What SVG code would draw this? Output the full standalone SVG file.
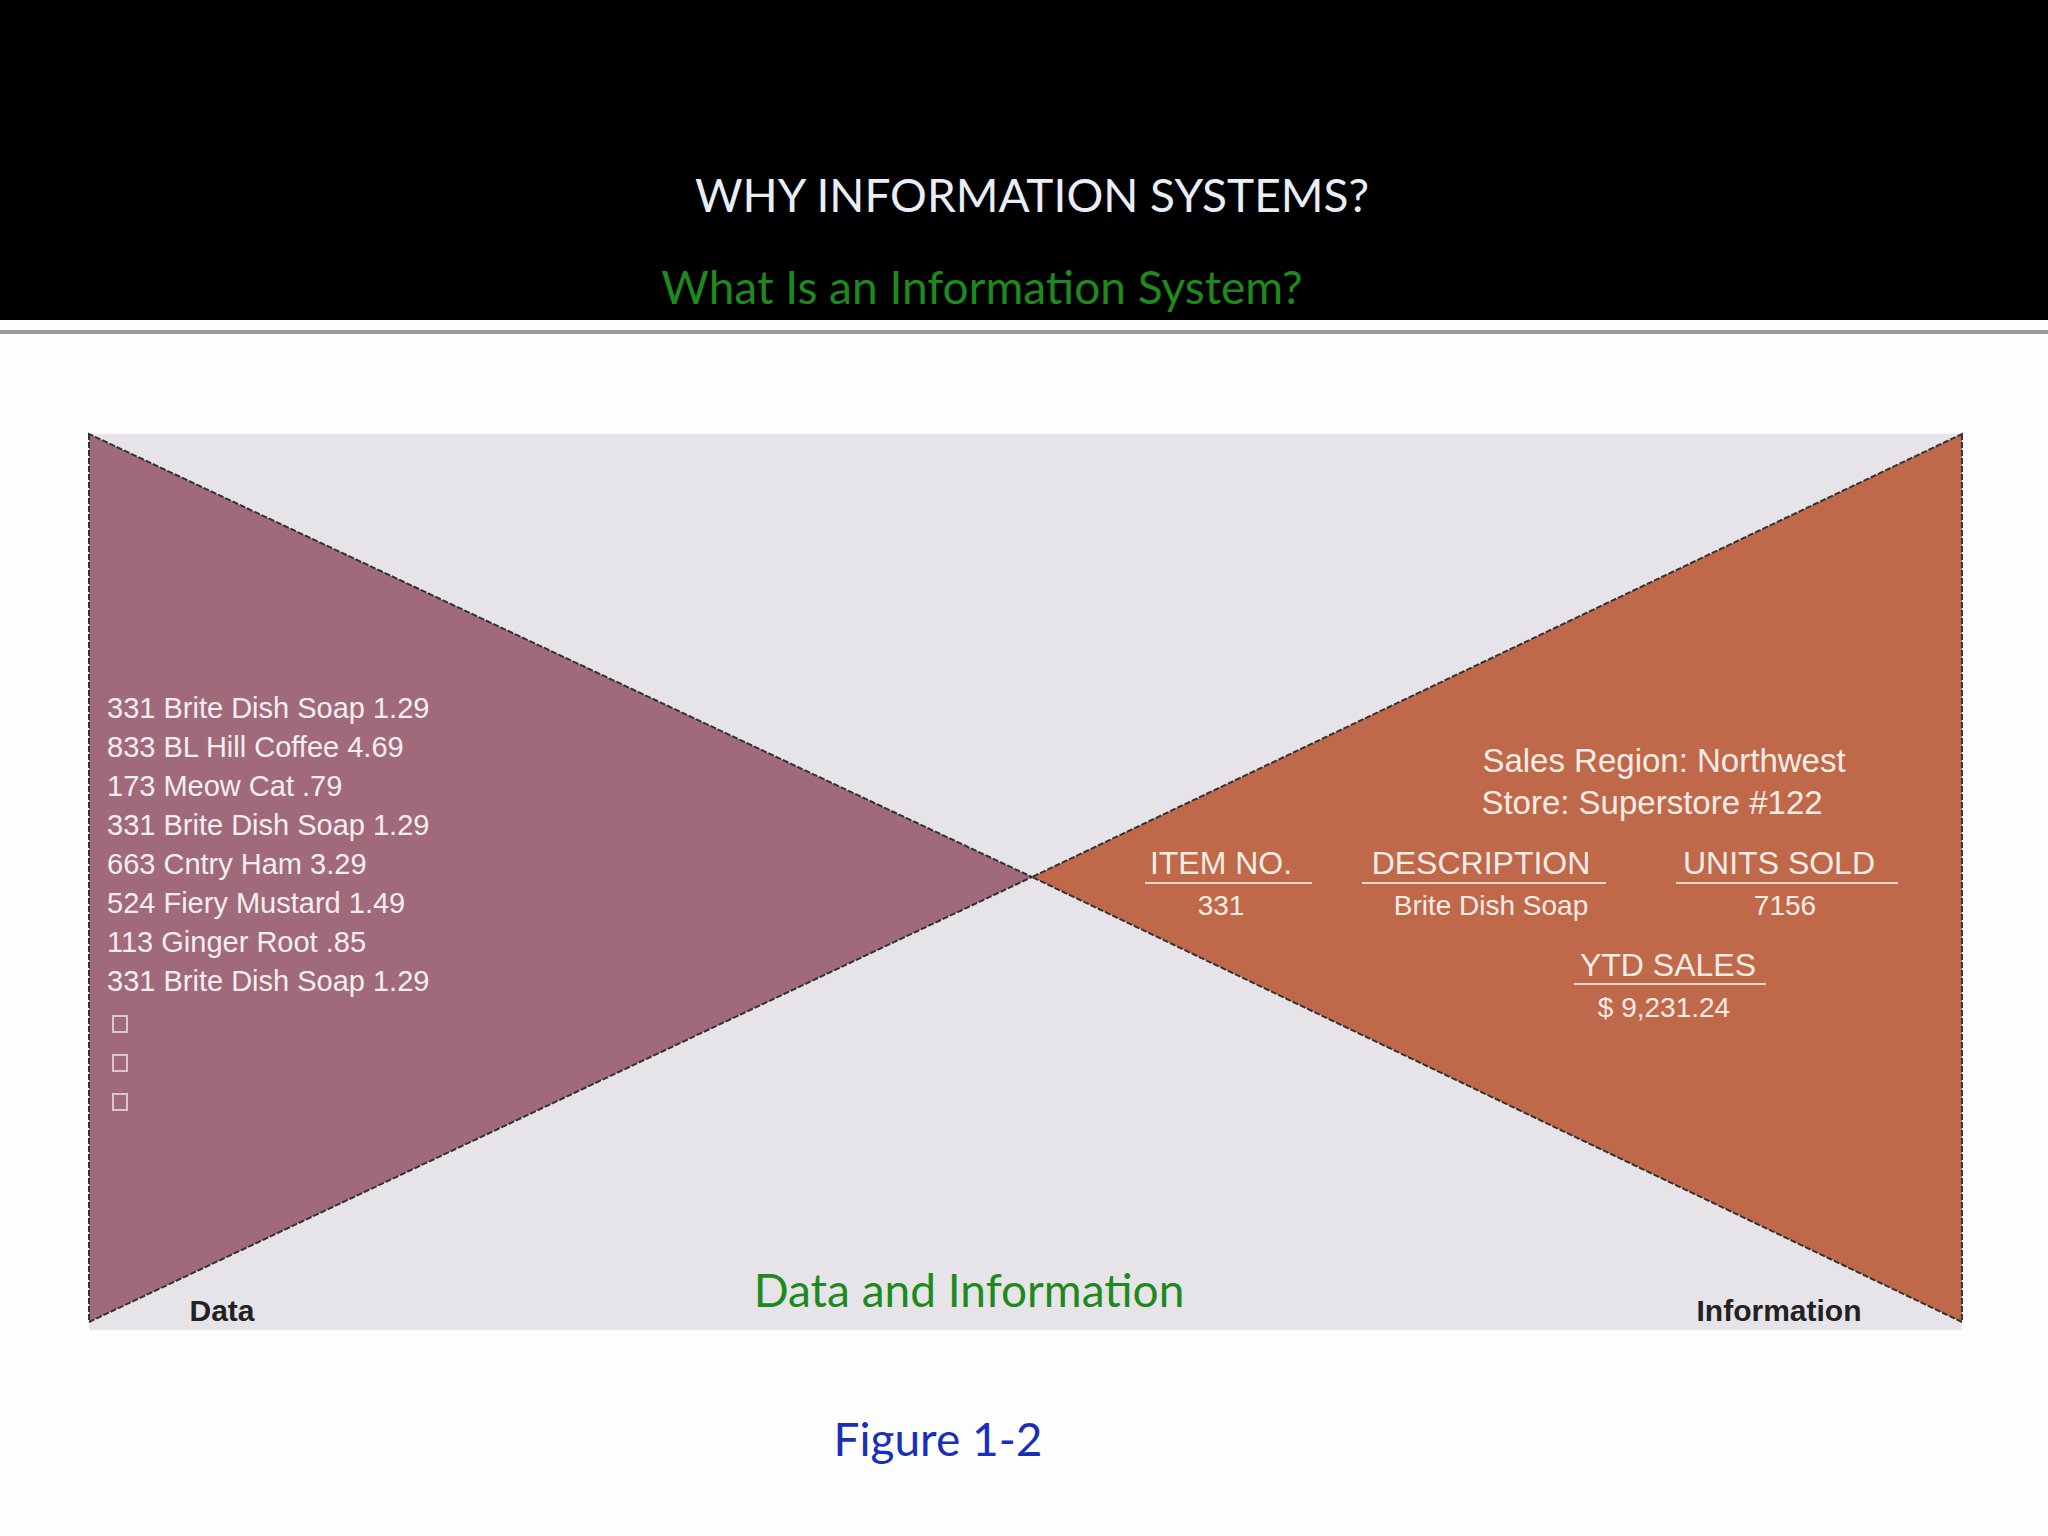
<svg xmlns="http://www.w3.org/2000/svg" width="2048" height="1536" viewBox="0 0 2048 1536">
<style>
.h{font-family:"Lato","Open Sans",sans-serif;text-anchor:middle}
.l{font-family:"Liberation Sans",Arial,sans-serif;fill:#f4eef0;font-size:29px}
.r{font-family:"Liberation Sans",Arial,sans-serif;fill:#f6ece6;text-anchor:middle}
.lab{font-family:"Liberation Sans",Arial,sans-serif;font-weight:bold;font-size:30px;fill:#222;text-anchor:middle}
</style>
<rect width="2048" height="1536" fill="#fdfdfd"/>
<rect width="2048" height="320" fill="#000"/>
<rect x="0" y="330" width="2048" height="4" fill="#9a9a9a"/>
<text class="h" x="1032" y="212" font-size="46" fill="#e8eef6">WHY INFORMATION SYSTEMS?</text>
<text class="h" x="982" y="304" font-size="46" fill="#1e8a1e">What Is an Information System?</text>
<g id="panel">
<rect x="89" y="434" width="1873" height="896" fill="#e6e4e8"/>
<polygon points="89,434 89,1322 1032,877" fill="#a06a7a" stroke="#333" stroke-width="2" stroke-dasharray="6 2"/>
<polygon points="1962,434 1962,1322 1032,877" fill="#c0694a" stroke="#333" stroke-width="2" stroke-dasharray="6 2"/>
</g>
<g id="data-text">
<text class="l" x="107" y="718">331 Brite Dish Soap  1.29</text>
<text class="l" x="107" y="757">833 BL Hill Coffee  4.69</text>
<text class="l" x="107" y="796">173 Meow Cat  .79</text>
<text class="l" x="107" y="835">331 Brite Dish Soap  1.29</text>
<text class="l" x="107" y="874">663 Cntry Ham 3.29</text>
<text class="l" x="107" y="913">524 Fiery Mustard  1.49</text>
<text class="l" x="107" y="952">113 Ginger Root  .85</text>
<text class="l" x="107" y="991">331 Brite Dish Soap  1.29</text>
<g fill="none" stroke="#d8c4ca" stroke-width="2">
<rect x="113" y="1016" width="14" height="16"/>
<rect x="113" y="1055" width="14" height="16"/>
<rect x="113" y="1094" width="14" height="16"/>
</g>
</g>
<g id="info-text">
<text class="r" x="1664" y="772" font-size="33">Sales Region: Northwest</text>
<text class="r" x="1652" y="814" font-size="33">Store: Superstore #122</text>
<text class="r" x="1221" y="874" font-size="32">ITEM NO.</text>
<text class="r" x="1481" y="874" font-size="32">DESCRIPTION</text>
<text class="r" x="1779" y="874" font-size="32">UNITS SOLD</text>
<g stroke="#f0d8cc" stroke-width="2">
<line x1="1145" y1="883" x2="1312" y2="883"/>
<line x1="1362" y1="883" x2="1606" y2="883"/>
<line x1="1676" y1="883" x2="1898" y2="883"/>
<line x1="1574" y1="984" x2="1766" y2="984"/>
</g>
<text class="r" x="1221" y="915" font-size="28">331</text>
<text class="r" x="1491" y="915" font-size="28">Brite Dish Soap</text>
<text class="r" x="1785" y="915" font-size="28">7156</text>
<text class="r" x="1668" y="976" font-size="32">YTD SALES</text>
<text class="r" x="1664" y="1017" font-size="28">$ 9,231.24</text>
</g>
<text class="lab" x="222" y="1321">Data</text>
<text class="lab" x="1779" y="1321">Information</text>
<text class="h" x="969" y="1307" font-size="46" fill="#1e8a1e">Data and Information</text>
<text class="h" x="938" y="1456" font-size="46" fill="#1a2fb8">Figure 1-2</text>
</svg>
